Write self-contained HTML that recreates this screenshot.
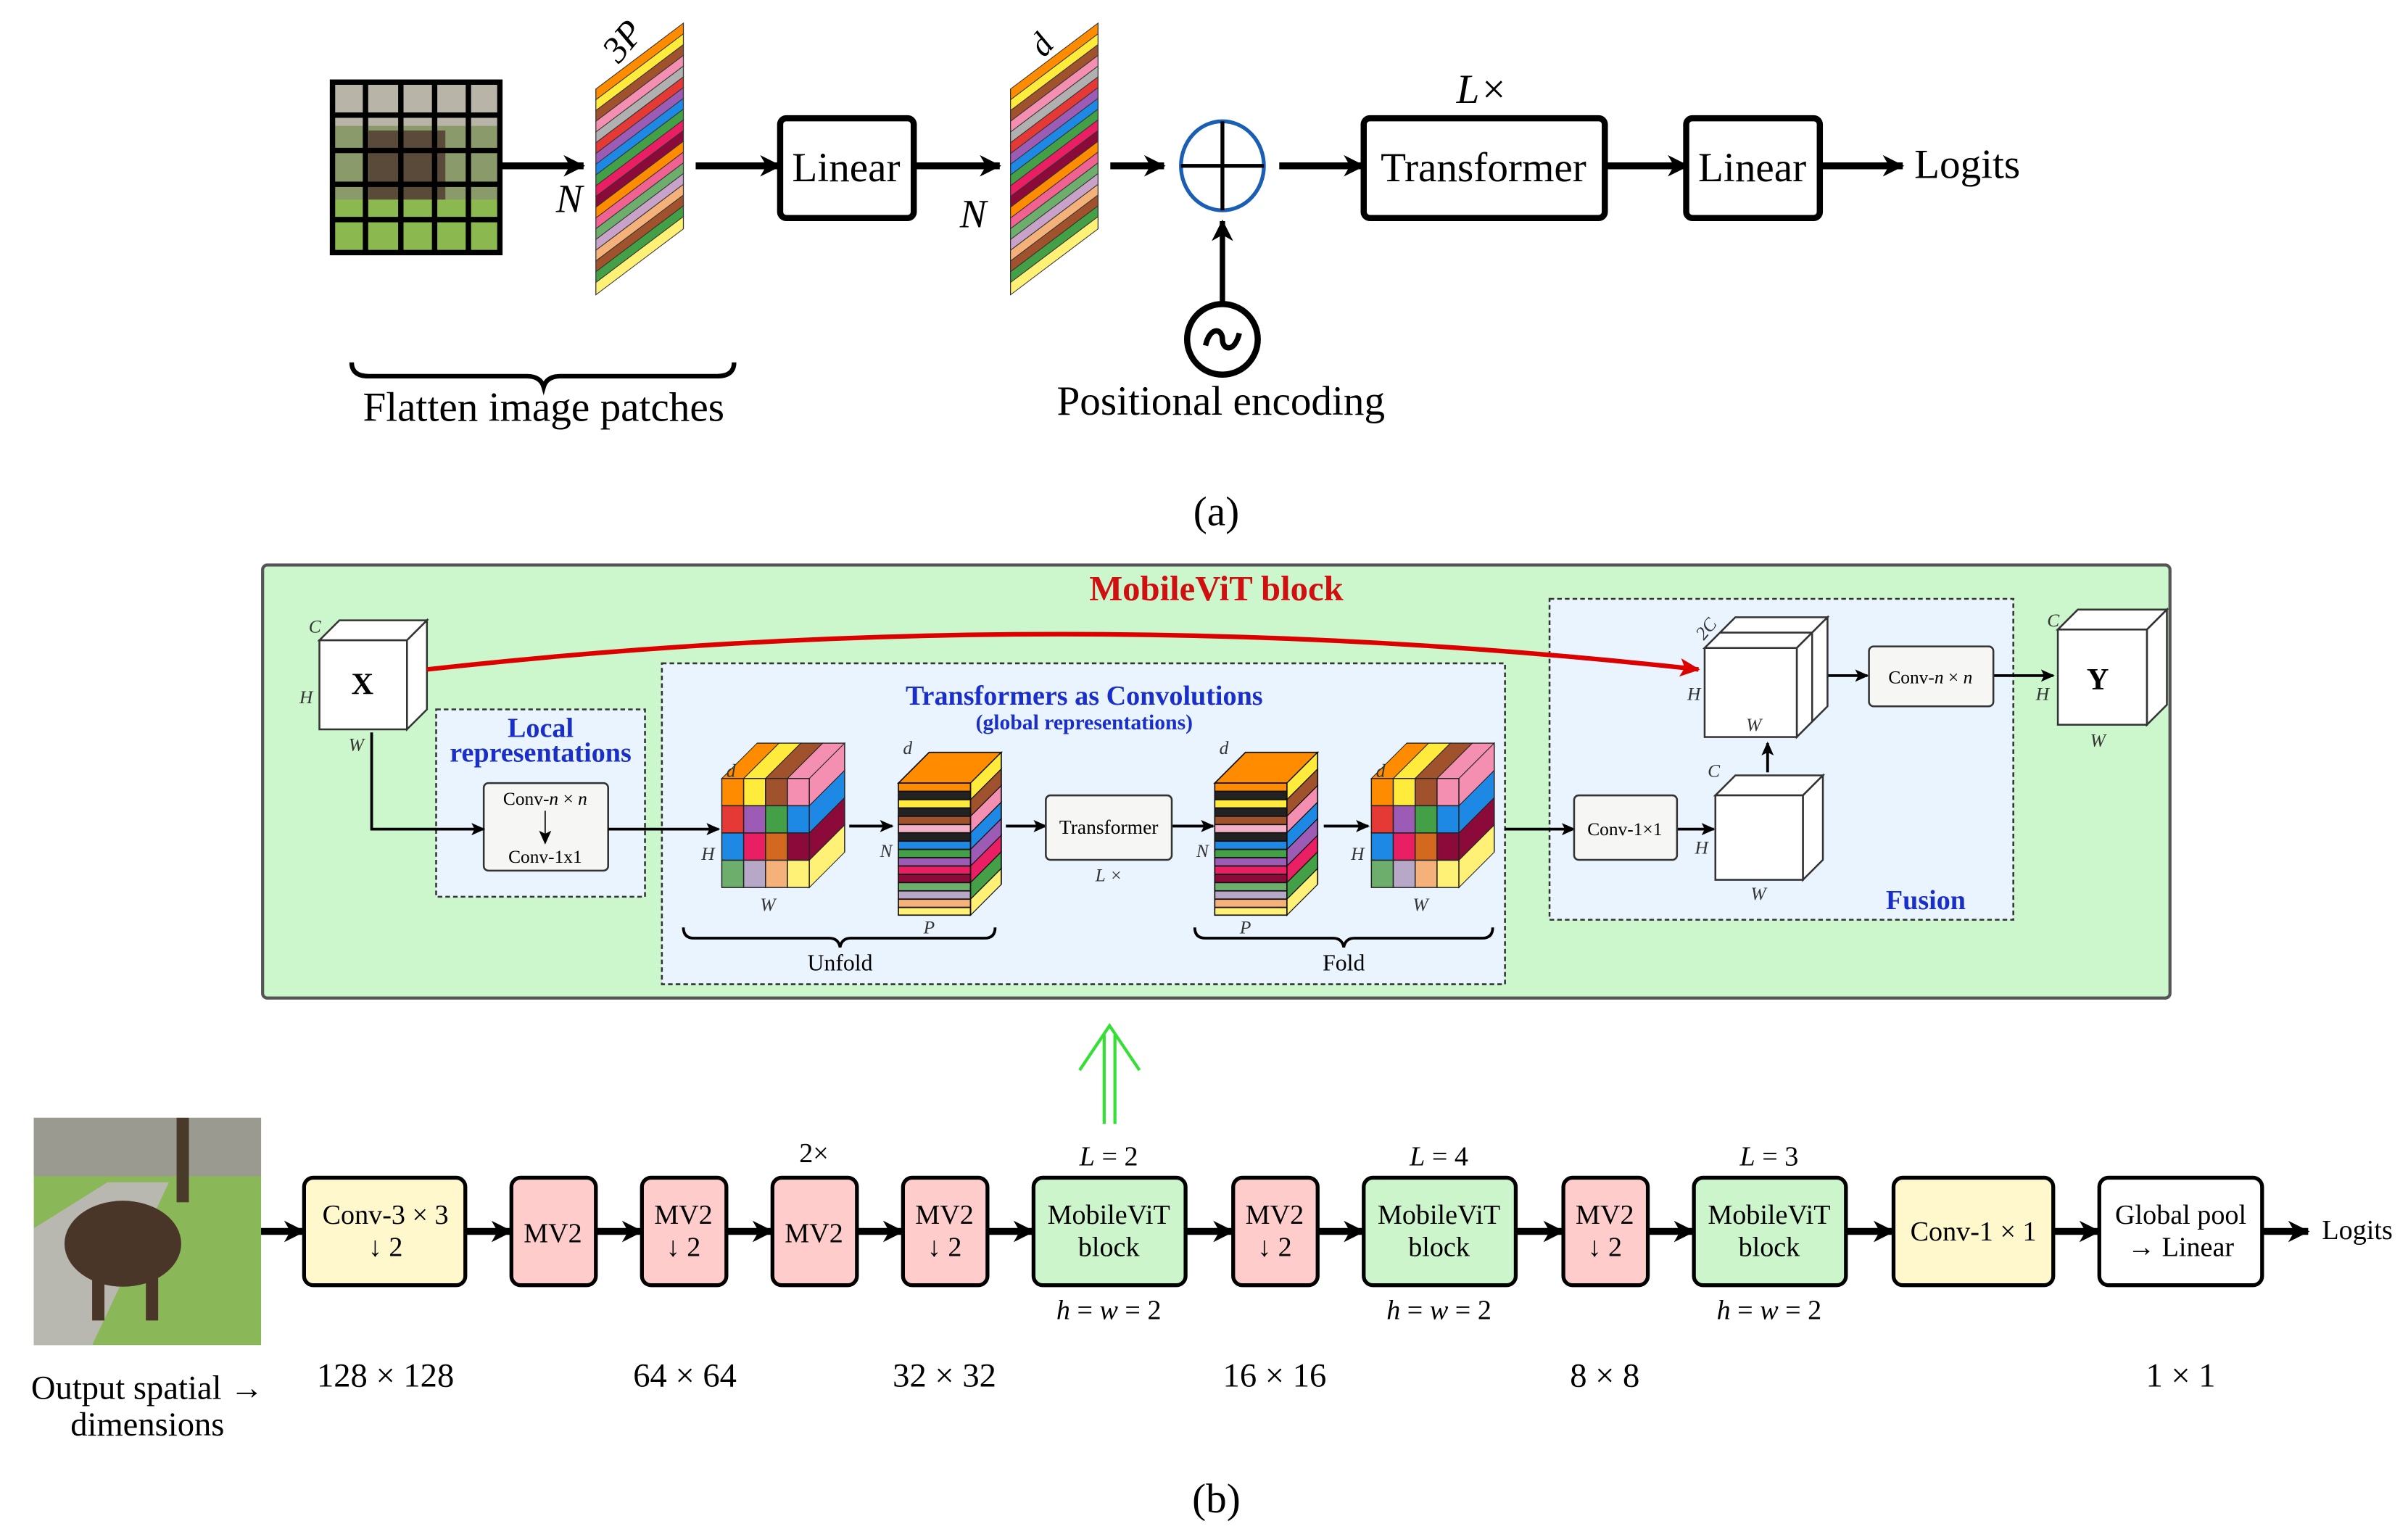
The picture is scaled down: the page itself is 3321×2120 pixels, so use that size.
<!DOCTYPE html>
<html><head><meta charset="utf-8"><style>
html,body{margin:0;padding:0;background:#fff;}
svg{display:block;}
text{font-family:"Liberation Serif",serif;}
</style></head><body>
<svg width="3321" height="2120" viewBox="0 0 1568 1001" preserveAspectRatio="none" xmlns="http://www.w3.org/2000/svg">
<defs>
<marker id="A" markerUnits="userSpaceOnUse" markerWidth="16" markerHeight="16" refX="13" refY="8" orient="auto"><path d="M0,1 L14,8 L0,15 L4,8 Z" fill="#000"/></marker>
<marker id="As" markerUnits="userSpaceOnUse" markerWidth="10" markerHeight="10" refX="8" refY="5" orient="auto"><path d="M0,1 L9,5 L0,9 L2,5 Z" fill="#000"/></marker>
<marker id="Ar" markerUnits="userSpaceOnUse" markerWidth="14" markerHeight="14" refX="12" refY="7" orient="auto"><path d="M0,1 L13,7 L0,13 L3,7 Z" fill="#d00"/></marker>
</defs>
<rect width="1568" height="1001" fill="#fff"/>

<!-- ===== (a) ===== -->
<rect x="215" y="52" width="112" height="114" fill="#8a9a6a"/>
<rect x="215" y="52" width="112" height="30" fill="#b8b4a8"/>
<rect x="240" y="85" width="50" height="60" fill="#5a4a3a"/>
<rect x="215" y="130" width="112" height="36" fill="#8cb850"/>
<g stroke="#000" stroke-width="3.5" fill="none">
<rect x="216.5" y="53.5" width="109" height="111"/>
<line x1="238" y1="52" x2="238" y2="166"/><line x1="261" y1="52" x2="261" y2="166"/><line x1="283" y1="52" x2="283" y2="166"/><line x1="305" y1="52" x2="305" y2="166"/>
<line x1="215" y1="75" x2="327" y2="75"/><line x1="215" y1="98" x2="327" y2="98"/><line x1="215" y1="120" x2="327" y2="120"/><line x1="215" y1="143" x2="327" y2="143"/>
</g>

<g transform="translate(388,58) skewY(-37)" stroke="#333" stroke-width="0.6">
<rect y="0" width="57" height="7" fill="#ff8c00"/><rect y="7" width="57" height="7" fill="#ffeb3b"/><rect y="14" width="57" height="7" fill="#a0522d"/><rect y="21" width="57" height="7" fill="#f48fb1"/><rect y="28" width="57" height="7" fill="#b0b0b0"/><rect y="35" width="57" height="7" fill="#e53935"/><rect y="42" width="57" height="7" fill="#9c5bb5"/><rect y="49" width="57" height="7" fill="#1e88e5"/><rect y="56" width="57" height="7" fill="#43a047"/><rect y="63" width="57" height="7" fill="#e91e63"/><rect y="70" width="57" height="7" fill="#8b0a3a"/><rect y="77" width="57" height="7" fill="#ff8c00"/><rect y="84" width="57" height="7" fill="#f06292"/><rect y="91" width="57" height="7" fill="#6dae6d"/><rect y="98" width="57" height="7" fill="#c8a2c8"/><rect y="105" width="57" height="7" fill="#f4b27a"/><rect y="112" width="57" height="7" fill="#a0522d"/><rect y="119" width="57" height="7" fill="#43a047"/><rect y="126" width="57" height="8" fill="#fff176"/>
</g>
<text x="403" y="42" font-size="24" font-style="italic" transform="rotate(-50 403 42)">3P</text>
<text x="362" y="138" font-size="26" font-style="italic">N</text>

<g transform="translate(658,58) skewY(-37)" stroke="#333" stroke-width="0.6">
<rect y="0" width="57" height="7" fill="#ff8c00"/><rect y="7" width="57" height="7" fill="#ffeb3b"/><rect y="14" width="57" height="7" fill="#a0522d"/><rect y="21" width="57" height="7" fill="#f48fb1"/><rect y="28" width="57" height="7" fill="#b0b0b0"/><rect y="35" width="57" height="7" fill="#e53935"/><rect y="42" width="57" height="7" fill="#9c5bb5"/><rect y="49" width="57" height="7" fill="#1e88e5"/><rect y="56" width="57" height="7" fill="#43a047"/><rect y="63" width="57" height="7" fill="#e91e63"/><rect y="70" width="57" height="7" fill="#8b0a3a"/><rect y="77" width="57" height="7" fill="#ff8c00"/><rect y="84" width="57" height="7" fill="#f06292"/><rect y="91" width="57" height="7" fill="#6dae6d"/><rect y="98" width="57" height="7" fill="#c8a2c8"/><rect y="105" width="57" height="7" fill="#f4b27a"/><rect y="112" width="57" height="7" fill="#a0522d"/><rect y="119" width="57" height="7" fill="#43a047"/><rect y="126" width="57" height="8" fill="#fff176"/>
</g>
<text x="680" y="38" font-size="22" font-style="italic" transform="rotate(-50 680 38)">d</text>
<text x="625" y="148" font-size="26" font-style="italic">N</text>

<g stroke="#000" stroke-width="4.5" fill="none" marker-end="url(#A)">
<line x1="327" y1="108" x2="380" y2="108"/>
<line x1="453" y1="108" x2="508" y2="108"/>
<line x1="595" y1="108" x2="651" y2="108"/>
<line x1="723" y1="108" x2="758" y2="108"/>
<line x1="833" y1="108" x2="888" y2="108"/>
<line x1="1045" y1="108" x2="1099" y2="108"/>
<line x1="1185" y1="108" x2="1239" y2="108"/>
<line x1="796" y1="198" x2="796" y2="144" stroke-width="3.5"/>
</g>
<g fill="#fff" stroke="#000" stroke-width="4">
<rect x="508" y="77" width="87" height="65" rx="4"/>
<rect x="888" y="77" width="157" height="65" rx="4"/>
<rect x="1098" y="77" width="87" height="65" rx="4"/>
</g>
<g font-size="27" text-anchor="middle">
<text x="551" y="118">Linear</text>
<text x="966" y="118">Transformer</text>
<text x="1141" y="118">Linear</text>
<text x="965" y="67" font-style="italic">L×</text>
<text x="1281" y="116">Logits</text>
</g>
<ellipse cx="796" cy="108" rx="27" ry="29" fill="#fff" stroke="#1a5fb4" stroke-width="2.5"/>
<line x1="769" y1="108" x2="823" y2="108" stroke="#000" stroke-width="2.5"/>
<line x1="796" y1="79" x2="796" y2="137" stroke="#000" stroke-width="2.5"/>
<circle cx="796" cy="221" r="23" fill="#fff" stroke="#000" stroke-width="4"/>
<path d="M785,225 C788,212 796,214 796,221 C796,228 804,230 807,217" fill="none" stroke="#000" stroke-width="3.5"/>
<path d="M229,236 Q229,245 240,245 L343,245 Q352,245 354,252 Q356,245 365,245 L467,245 Q478,245 478,236" fill="none" stroke="#000" stroke-width="3"/>
<g font-size="27" text-anchor="middle">
<text x="354" y="274">Flatten image patches</text>
<text x="795" y="270">Positional encoding</text>
<text x="792" y="342">(a)</text>
</g>

<!-- ===== (b) MobileViT block ===== -->
<rect x="171" y="368" width="1242" height="282" rx="3" fill="#ccf7cc" stroke="#555" stroke-width="2"/>
<text x="792" y="391" font-size="23" font-weight="bold" fill="#d01010" text-anchor="middle">MobileViT block</text>

<!-- dashed boxes -->
<rect x="284" y="462" width="136" height="122" fill="#eaf4ff" stroke="#333" stroke-width="1.2" stroke-dasharray="3,2"/>
<rect x="431" y="432" width="549" height="209" fill="#eaf4ff" stroke="#333" stroke-width="1.2" stroke-dasharray="3,2"/>
<rect x="1009" y="390" width="302" height="209" fill="#eaf4ff" stroke="#333" stroke-width="1.2" stroke-dasharray="3,2"/>
<g fill="#1a2fc8" font-weight="bold" text-anchor="middle">
<text x="352" y="480" font-size="18">Local</text>
<text x="352" y="496" font-size="18">representations</text>
<text x="706" y="459" font-size="18">Transformers as Convolutions</text>
<text x="706" y="475" font-size="14">(global representations)</text>
<text x="1254" y="592" font-size="18">Fusion</text>
</g>

<!-- X cube -->
<g stroke="#333" stroke-width="1.2" fill="#fff">
<polygon points="208,417 221,404 278,404 265,417"/>
<polygon points="265,417 278,404 278,462 265,475"/>
<rect x="208" y="417" width="57" height="58"/>
</g>
<text x="236" y="452" font-size="20" font-weight="bold" text-anchor="middle">X</text>
<g font-size="12" font-style="italic" fill="#333">
<text x="201" y="412">C</text><text x="195" y="458">H</text><text x="227" y="489">W</text>
</g>

<!-- red curve -->
<path d="M278,436 Q690,390 1106,436" fill="none" stroke="#d00" stroke-width="3" marker-end="url(#Ar)"/>

<!-- local box -->
<rect x="315" y="510" width="81" height="57" rx="3" fill="#f6f6f4" stroke="#333" stroke-width="1.2"/>
<g font-size="12" text-anchor="middle"><text x="355" y="524">Conv-<tspan font-style="italic">n</tspan> × <tspan font-style="italic">n</tspan></text><text x="355" y="562">Conv-1x1</text></g>
<line x1="355" y1="528" x2="355" y2="549" stroke="#333" stroke-width="1" marker-end="url(#As)"/>

<g stroke="#000" stroke-width="1.8" fill="none" marker-end="url(#As)">
<polyline points="242,477 242,540 315,540"/>
<line x1="396" y1="540" x2="468" y2="540"/>
<line x1="553" y1="538" x2="581" y2="538"/>
<line x1="655" y1="538" x2="681" y2="538"/>
<line x1="763" y1="538" x2="790" y2="538"/>
<line x1="862" y1="538" x2="891" y2="538"/>
<line x1="980" y1="540" x2="1025" y2="540"/>
<line x1="1092" y1="540" x2="1116" y2="540"/>
<line x1="1151" y1="503" x2="1151" y2="484"/>
<line x1="1190" y1="440" x2="1216" y2="440"/>
<line x1="1298" y1="440" x2="1337" y2="440"/>
</g>

<!-- colored cube 1 -->
<g id="cc" stroke="#222" stroke-width="0.7">
<g transform="translate(470,507)">
<rect x="0" y="0" width="14.25" height="17.75" fill="#ff8c00"/><rect x="14.25" y="0" width="14.25" height="17.75" fill="#ffeb3b"/><rect x="28.5" y="0" width="14.25" height="17.75" fill="#a0522d"/><rect x="42.75" y="0" width="14.25" height="17.75" fill="#f48fb1"/>
<rect x="0" y="17.75" width="14.25" height="17.75" fill="#e53935"/><rect x="14.25" y="17.75" width="14.25" height="17.75" fill="#9c5bb5"/><rect x="28.5" y="17.75" width="14.25" height="17.75" fill="#43a047"/><rect x="42.75" y="17.75" width="14.25" height="17.75" fill="#1e88e5"/>
<rect x="0" y="35.5" width="14.25" height="17.75" fill="#1e88e5"/><rect x="14.25" y="35.5" width="14.25" height="17.75" fill="#e91e63"/><rect x="28.5" y="35.5" width="14.25" height="17.75" fill="#d2691e"/><rect x="42.75" y="35.5" width="14.25" height="17.75" fill="#8b0a3a"/>
<rect x="0" y="53.25" width="14.25" height="17.75" fill="#6dae6d"/><rect x="14.25" y="53.25" width="14.25" height="17.75" fill="#b8a8c8"/><rect x="28.5" y="53.25" width="14.25" height="17.75" fill="#f4b27a"/><rect x="42.75" y="53.25" width="14.25" height="17.75" fill="#fff176"/>
</g>
<g transform="translate(470,507) skewX(-45)">
<rect x="0" y="-23" width="14.25" height="23" fill="#ff8c00"/><rect x="14.25" y="-23" width="14.25" height="23" fill="#ffeb3b"/><rect x="28.5" y="-23" width="14.25" height="23" fill="#a0522d"/><rect x="42.75" y="-23" width="14.25" height="23" fill="#f48fb1"/>
</g>
<g transform="translate(527,507) skewY(-45)">
<rect x="0" y="0" width="23" height="17.75" fill="#f48fb1"/><rect x="0" y="17.75" width="23" height="17.75" fill="#1e88e5"/><rect x="0" y="35.5" width="23" height="17.75" fill="#8b0a3a"/><rect x="0" y="53.25" width="23" height="17.75" fill="#fff176"/>
</g>
</g>
<use href="#cc" x="423" y="0"/>

<!-- stacks -->
<g id="st" stroke="#111" stroke-width="0.8">
<polygon points="585,510 632,510 652,490 605,490" fill="#ff8c00"/>
<g transform="translate(585,510)">
<rect y="0" width="47" height="5.4" fill="#ff8c00"/><rect y="5.4" width="47" height="5.4" fill="#222"/><rect y="10.8" width="47" height="5.4" fill="#ffeb3b"/><rect y="16.2" width="47" height="5.4" fill="#222"/><rect y="21.6" width="47" height="5.4" fill="#a0522d"/><rect y="27" width="47" height="5.4" fill="#f4b2c8"/><rect y="32.4" width="47" height="5.4" fill="#222"/><rect y="37.8" width="47" height="5.4" fill="#1e88e5"/><rect y="43.2" width="47" height="5.4" fill="#43a047"/><rect y="48.6" width="47" height="5.4" fill="#9c5bb5"/><rect y="54" width="47" height="5.4" fill="#e91e63"/><rect y="59.4" width="47" height="5.4" fill="#8b0a3a"/><rect y="64.8" width="47" height="5.4" fill="#6dae6d"/><rect y="70.2" width="47" height="5.4" fill="#b8a8c8"/><rect y="75.6" width="47" height="5.4" fill="#f4b27a"/><rect y="81" width="47" height="5" fill="#fff176"/>
</g>
<g transform="translate(632,510) skewY(-45)">
<rect y="0" width="20" height="10.8" fill="#ffeb3b"/><rect y="10.8" width="20" height="10.8" fill="#a0522d"/><rect y="21.6" width="20" height="10.8" fill="#f48fb1"/><rect y="32.4" width="20" height="10.8" fill="#1e88e5"/><rect y="43.2" width="20" height="10.8" fill="#9c5bb5"/><rect y="54" width="20" height="10.8" fill="#e91e63"/><rect y="64.8" width="20" height="10.8" fill="#43a047"/><rect y="75.6" width="20" height="10.4" fill="#fff176"/>
</g>
</g>
<use href="#st" x="206" y="0"/>

<g font-size="12" font-style="italic" fill="#333" text-anchor="middle">
<text x="476" y="506">d</text><text x="461" y="560">H</text><text x="500" y="593">W</text>
<text x="591" y="491">d</text><text x="577" y="558">N</text><text x="605" y="608">P</text>
<text x="797" y="491">d</text><text x="783" y="558">N</text><text x="811" y="608">P</text>
<text x="899" y="506">d</text><text x="884" y="560">H</text><text x="925" y="593">W</text>
<text x="722" y="574">L ×</text>
</g>
<rect x="681" y="518" width="82" height="42" rx="3" fill="#f6f6f4" stroke="#333" stroke-width="1.2"/>
<text x="722" y="543" font-size="13" text-anchor="middle">Transformer</text>

<g fill="none" stroke="#000" stroke-width="1.8">
<path d="M445,604 Q445,611 452,611 L540,611 Q546,611 547,617 Q548,611 554,611 L641,611 Q648,611 648,604"/>
<path d="M778,604 Q778,611 785,611 L868,611 Q874,611 875,617 Q876,611 882,611 L965,611 Q972,611 972,604"/>
</g>
<g font-size="15" text-anchor="middle"><text x="547" y="632">Unfold</text><text x="875" y="632">Fold</text></g>

<!-- fusion -->
<rect x="1025" y="518" width="67" height="42" rx="3" fill="#f6f6f4" stroke="#333" stroke-width="1.2"/>
<text x="1058" y="544" font-size="12" text-anchor="middle">Conv-1×1</text>
<g stroke="#333" stroke-width="1.2" fill="#fff">
<polygon points="1117,518 1130,505 1187,505 1174,518"/>
<polygon points="1174,518 1187,505 1187,560 1174,573"/>
<rect x="1117" y="518" width="57" height="55"/>
<polygon points="1110,422 1130,402 1190,402 1170,422"/>
<polygon points="1170,422 1190,402 1190,460 1170,480"/>
<line x1="1120" y1="412" x2="1180" y2="412"/><line x1="1180" y1="412" x2="1180" y2="470"/>
<rect x="1110" y="422" width="60" height="58"/>
<polygon points="1340,410 1353,397 1411,397 1398,410"/>
<polygon points="1398,410 1411,397 1411,459 1398,472"/>
<rect x="1340" y="410" width="58" height="62"/>
</g>
<rect x="1217" y="421" width="81" height="39" rx="3" fill="#f6f6f4" stroke="#333" stroke-width="1.2"/>
<text x="1257" y="445" font-size="12" text-anchor="middle">Conv-<tspan font-style="italic">n</tspan> × <tspan font-style="italic">n</tspan></text>
<text x="1366" y="449" font-size="20" font-weight="bold" text-anchor="middle">Y</text>
<g font-size="12" font-style="italic" fill="#333" text-anchor="middle">
<text x="1116" y="506">C</text><text x="1108" y="556">H</text><text x="1145" y="586">W</text>
<text x="1114" y="412" transform="rotate(-50 1114 412)">2C</text><text x="1103" y="456">H</text><text x="1142" y="476">W</text>
<text x="1337" y="408">C</text><text x="1330" y="456">H</text><text x="1366" y="486">W</text>
</g>

<!-- green double arrow -->
<g stroke="#33e033" stroke-width="2" fill="none">
<line x1="719" y1="732" x2="719" y2="674"/><line x1="726" y1="732" x2="726" y2="674"/>
<polyline points="703,697 722.5,668 742,697"/>
</g>

<!-- ===== bottom row ===== -->
<rect x="22" y="728" width="148" height="148" fill="#8ab858"/>
<rect x="22" y="728" width="148" height="38" fill="#9a9a90"/>
<polygon points="22,800 70,770 110,770 60,876 22,876" fill="#b8b8b0"/>
<ellipse cx="80" cy="810" rx="38" ry="28" fill="#4a3628"/>
<rect x="60" y="820" width="8" height="40" fill="#4a3628"/><rect x="95" y="820" width="8" height="40" fill="#4a3628"/>
<rect x="115" y="728" width="8" height="55" fill="#4a3a2a"/>

<g stroke="#000" stroke-width="4.5" marker-end="url(#A)">
<line x1="170" y1="802" x2="198" y2="802"/>
<line x1="303" y1="802" x2="333" y2="802"/>
<line x1="388" y1="802" x2="418" y2="802"/>
<line x1="473" y1="802" x2="503" y2="802"/>
<line x1="558" y1="802" x2="588" y2="802"/>
<line x1="643" y1="802" x2="673" y2="802"/>
<line x1="772" y1="802" x2="803" y2="802"/>
<line x1="858" y1="802" x2="888" y2="802"/>
<line x1="987" y1="802" x2="1018" y2="802"/>
<line x1="1073" y1="802" x2="1103" y2="802"/>
<line x1="1202" y1="802" x2="1233" y2="802"/>
<line x1="1337" y1="802" x2="1367" y2="802"/>
<line x1="1473" y1="802" x2="1503" y2="802"/>
</g>
<g stroke="#000" stroke-width="2.5">
<rect x="198" y="767" width="105" height="70" rx="6" fill="#fff8cc"/>
<rect x="333" y="767" width="55" height="70" rx="6" fill="#ffcccc"/>
<rect x="418" y="767" width="55" height="70" rx="6" fill="#ffcccc"/>
<rect x="503" y="767" width="55" height="70" rx="6" fill="#ffcccc"/>
<rect x="588" y="767" width="55" height="70" rx="6" fill="#ffcccc"/>
<rect x="673" y="767" width="99" height="70" rx="6" fill="#ccf5cc"/>
<rect x="803" y="767" width="55" height="70" rx="6" fill="#ffcccc"/>
<rect x="888" y="767" width="99" height="70" rx="6" fill="#ccf5cc"/>
<rect x="1018" y="767" width="55" height="70" rx="6" fill="#ffcccc"/>
<rect x="1103" y="767" width="99" height="70" rx="6" fill="#ccf5cc"/>
<rect x="1233" y="767" width="104" height="70" rx="6" fill="#fff8cc"/>
<rect x="1367" y="767" width="106" height="70" rx="6" fill="#fff"/>
</g>
<g font-size="18" text-anchor="middle">
<text x="251" y="797">Conv-3 × 3</text><text x="251" y="818">↓ 2</text>
<text x="360" y="809">MV2</text>
<text x="445" y="797">MV2</text><text x="445" y="818">↓ 2</text>
<text x="530" y="809">MV2</text>
<text x="615" y="797">MV2</text><text x="615" y="818">↓ 2</text>
<text x="722" y="797">MobileViT</text><text x="722" y="818">block</text>
<text x="830" y="797">MV2</text><text x="830" y="818">↓ 2</text>
<text x="937" y="797">MobileViT</text><text x="937" y="818">block</text>
<text x="1045" y="797">MV2</text><text x="1045" y="818">↓ 2</text>
<text x="1152" y="797">MobileViT</text><text x="1152" y="818">block</text>
<text x="1285" y="808">Conv-1 × 1</text>
<text x="1420" y="797">Global pool</text><text x="1420" y="818">→ Linear</text>
<text x="530" y="757">2×</text>
<text x="722" y="759"><tspan font-style="italic">L</tspan> = 2</text>
<text x="937" y="759"><tspan font-style="italic">L</tspan> = 4</text>
<text x="1152" y="759"><tspan font-style="italic">L</tspan> = 3</text>
<text x="722" y="859"><tspan font-style="italic">h</tspan> = <tspan font-style="italic">w</tspan> = 2</text>
<text x="937" y="859"><tspan font-style="italic">h</tspan> = <tspan font-style="italic">w</tspan> = 2</text>
<text x="1152" y="859"><tspan font-style="italic">h</tspan> = <tspan font-style="italic">w</tspan> = 2</text>
<text x="1535" y="807">Logits</text>
</g>
<g font-size="22" text-anchor="middle">
<text x="251" y="903">128 × 128</text>
<text x="446" y="903">64 × 64</text>
<text x="615" y="903">32 × 32</text>
<text x="830" y="903">16 × 16</text>
<text x="1045" y="903">8 × 8</text>
<text x="1420" y="903">1 × 1</text>
<text x="96" y="911">Output spatial →</text>
<text x="96" y="935">dimensions</text>
<text x="792" y="985" font-size="27">(b)</text>
</g>
</svg>
</body></html>
